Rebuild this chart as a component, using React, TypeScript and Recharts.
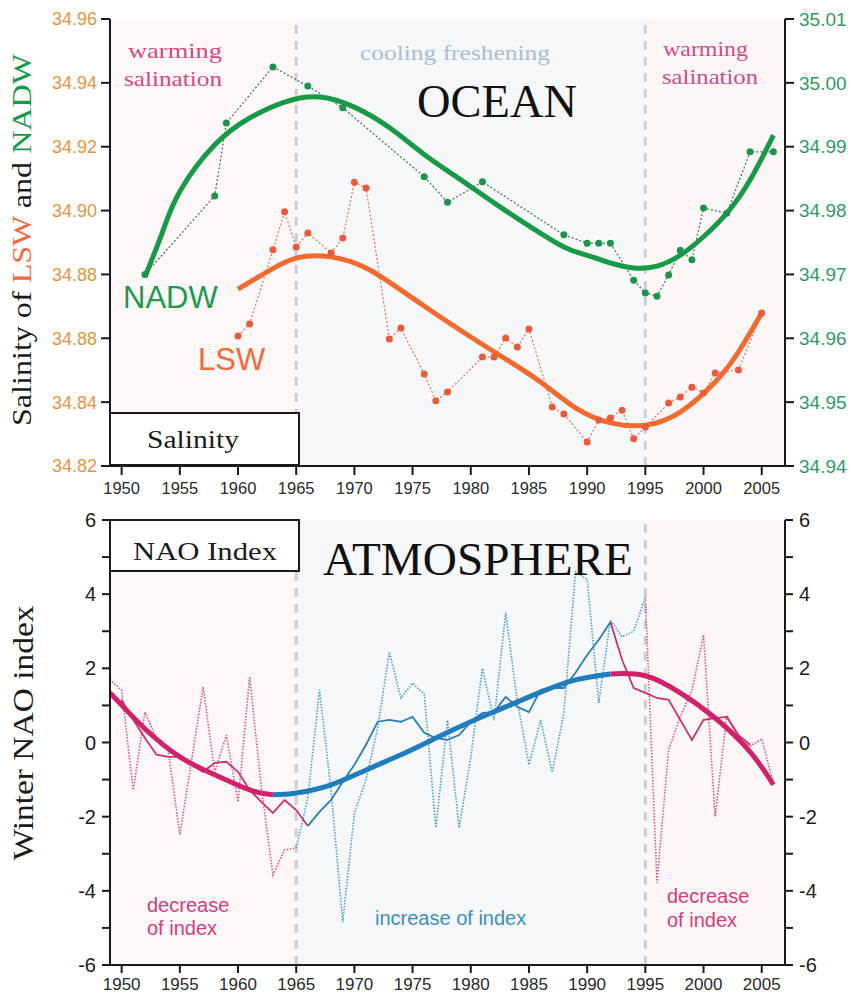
import React from "react";
import { LineChart, Line, XAxis, YAxis, ReferenceArea, ReferenceLine } from "recharts";

const YEAR_TICKS = [1950, 1955, 1960, 1965, 1970, 1975, 1980, 1985, 1990, 1995, 2000, 2005];
const YEAR_DOMAIN = [1949, 2007];
const PERIODS = [1965, 1995];

const LSW_TICKS = [34.82, 34.84, 34.86, 34.88, 34.9, 34.92, 34.94, 34.96];
const LSW_TICK_LABELS = ["34.82", "34.84", "34.88", "34.88", "34.90", "34.92", "34.94", "34.96"];
const NADW_TICKS = [34.94, 34.95, 34.96, 34.97, 34.98, 34.99, 35.0, 35.01];
const NAO_TICKS = [-6, -5, -4, -3, -2, -1, 0, 1, 2, 3, 4, 5, 6];

// NADW salinity (right axis)
const NADW_YEARS = [1952, 1958, 1959, 1963, 1966, 1969, 1976, 1978, 1981, 1988, 1990, 1991, 1992, 1994, 1995, 1996, 1997, 1998, 1999, 2000, 2002, 2004, 2006];
const NADW_VALUES = [34.970, 34.9823, 34.9937, 35.0025, 34.9995, 34.9961, 34.9853, 34.9813, 34.9845, 34.9762, 34.9749, 34.9749, 34.9749, 34.9691, 34.9671, 34.9666, 34.9699, 34.9738, 34.9723, 34.9804, 34.9796, 34.9892, 34.9892];
const NADW_FIT_YEARS = [1952, 1953.5, 1955, 1958, 1961, 1964, 1967, 1970, 1973, 1976, 1979, 1982, 1985, 1988, 1990, 1992, 1994, 1996, 1998, 2000, 2002, 2004, 2006];
const NADW_FIT_VALUES = [34.9696, 34.9766, 34.9830, 34.9903, 34.9945, 34.997, 34.9978, 34.9962, 34.993, 34.9888, 34.985, 34.9812, 34.9776, 34.9743, 34.973, 34.9718, 34.971, 34.9713, 34.973, 34.9759, 34.9796, 34.9848, 34.9918];

// LSW salinity (left axis)
const LSW_YEARS = [1960, 1961, 1963, 1964, 1965, 1966, 1968, 1969, 1970, 1971, 1973, 1974, 1976, 1977, 1978, 1981, 1982, 1983, 1984, 1985, 1987, 1988, 1990, 1991, 1992, 1993, 1994, 1995, 1997, 1998, 1999, 2000, 2001, 2003, 2005];
const LSW_VALUES = [34.8607, 34.8645, 34.8877, 34.8996, 34.8886, 34.893, 34.8867, 34.8914, 34.9089, 34.9071, 34.8598, 34.8632, 34.8488, 34.8404, 34.8432, 34.8541, 34.8541, 34.8601, 34.8573, 34.8629, 34.8385, 34.8363, 34.8275, 34.8344, 34.835, 34.8375, 34.8285, 34.8322, 34.8397, 34.8416, 34.8447, 34.8429, 34.8491, 34.8501, 34.8679];
const LSW_FIT_YEARS = [1960, 1962.5, 1965, 1968, 1971, 1974, 1977, 1980, 1983, 1986, 1989, 1992, 1995, 1998, 2001, 2003, 2005];
const LSW_FIT_VALUES = [34.8754, 34.8808, 34.8851, 34.8855, 34.882, 34.8751, 34.8676, 34.8604, 34.8535, 34.8463, 34.8382, 34.8335, 34.8328, 34.8369, 34.8463, 34.8557, 34.8679];

// winter NAO index
const NAO_YEARS = [1949, 1950, 1951, 1952, 1953, 1954, 1955, 1956, 1957, 1958, 1959, 1960, 1961, 1962, 1963, 1964, 1965, 1966, 1967, 1968, 1969, 1970, 1971, 1972, 1973, 1974, 1975, 1976, 1977, 1978, 1979, 1980, 1981, 1982, 1983, 1984, 1985, 1986, 1987, 1988, 1989, 1990, 1991, 1992, 1993, 1994, 1995, 1996, 1997, 1998, 1999, 2000, 2001, 2002, 2003, 2004, 2005, 2006];
const NAO_VALUES = [1.7, 1.4, -1.28, 0.82, 0.1, -0.2, -2.49, -0.5, 1.5, -0.8, 0.2, -1.6, 1.77, -1.2, -3.57, -2.9, -2.84, -1.5, 1.42, -1.3, -4.84, -1.9, -1.0, 0.4, 2.44, 1.2, 1.6, 1.3, -2.3, 0.6, -2.3, -0.4, 2.0, 0.6, 3.5, 1.1, -0.6, 0.6, -0.8, 0.8, 4.6, 4.4, 1.07, 3.3, 2.85, 3.0, 3.92, -3.78, -0.2, 0.7, 1.4, 2.9, -2.0, 0.74, 0.1, -0.1, 0.1, -1.1];
const NAO_MEAN_YEARS = [1950, 1951, 1952, 1953, 1954, 1955, 1956, 1957, 1958, 1959, 1960, 1961, 1962, 1963, 1964, 1965, 1966, 1967, 1968, 1969, 1970, 1971, 1972, 1973, 1974, 1975, 1976, 1977, 1978, 1979, 1980, 1981, 1982, 1983, 1984, 1985, 1986, 1987, 1988, 1989, 1990, 1991, 1992, 1993, 1994, 1995, 1996, 1997, 1998, 1999, 2000, 2001, 2002, 2003, 2004];
const NAO_MEAN_VALUES = [1.15, 0.61, 0.12, -0.33, -0.39, -0.39, -0.6, -0.79, -0.55, -0.52, -0.79, -1.28, -1.6, -1.9, -1.55, -1.82, -2.25, -1.87, -1.55, -1.06, -0.6, -0.06, 0.56, 0.61, 0.56, 0.69, 0.26, 0.12, 0.07, 0.2, 0.56, 0.8, 0.82, 1.23, 0.96, 0.82, 1.42, 1.47, 1.47, 1.88, 2.36, 2.77, 3.25, 2.23, 1.47, 1.34, 1.2, 1.15, 0.61, 0.07, 0.61, 0.66, 0.69, 0.2, -0.06];
const NAO_FIT_YEARS = [1949, 1950, 1952, 1955, 1958, 1961, 1963, 1965, 1968, 1971, 1974, 1977, 1980, 1983, 1986, 1989, 1992, 1995, 1998, 2001, 2004, 2006];
const NAO_FIT_VALUES = [1.34, 1.01, 0.37, -0.39, -0.87, -1.28, -1.41, -1.36, -1.14, -0.74, -0.33, 0.12, 0.56, 0.96, 1.36, 1.69, 1.85, 1.8, 1.34, 0.66, -0.25, -1.14];

const PINK = "#d3206b";
const BLUE = "#1f7cbd";
const GREEN = "#179a48";
const ORANGE = "#f26a2e";

const SANS = "'Liberation Sans', Arial, sans-serif";
const SERIF = "'Liberation Serif', 'Times New Roman', serif";

function rows(years: number[], values: number[], from = -Infinity, to = Infinity) {
  return years
    .map((year, i) => ({ year, v: values[i] }))
    .filter((r) => r.year >= from && r.year <= to);
}

const axisStroke = { stroke: "#1a1a1a", strokeWidth: 2 };

function Shading({ yAxisId }: { yAxisId: string }) {
  return (
    <>
      <ReferenceArea xAxisId="b" yAxisId={yAxisId} x1={1949} x2={PERIODS[0]} fill="#fdf7f7" fillOpacity={1} stroke="none" />
      <ReferenceArea xAxisId="b" yAxisId={yAxisId} x1={PERIODS[0]} x2={PERIODS[1]} fill="#f6f7f9" fillOpacity={1} stroke="none" />
      <ReferenceArea xAxisId="b" yAxisId={yAxisId} x1={PERIODS[1]} x2={2007} fill="#fdf6f7" fillOpacity={1} stroke="none" />
      {PERIODS.map((p) => (
        <ReferenceLine key={p} xAxisId="b" yAxisId={yAxisId} x={p} stroke="#cdced2" strokeWidth={3} strokeDasharray="9 7" />
      ))}
    </>
  );
}

function OceanChart() {
  return (
    <LineChart width={852} height={501} margin={{ top: 19, right: 0, bottom: 0, left: 0 }}>
      <XAxis xAxisId="b" dataKey="year" type="number" domain={YEAR_DOMAIN} ticks={YEAR_TICKS}
        allowDataOverflow height={35} tickSize={9} tickMargin={7} axisLine={axisStroke} tickLine={axisStroke}
        tick={{ fill: "#2a2a2a", fontSize: 16.5, fontFamily: SANS }} />
      <XAxis xAxisId="t" orientation="top" mirror dataKey="year" type="number" domain={YEAR_DOMAIN}
        ticks={YEAR_TICKS} allowDataOverflow height={0} tickSize={9} axisLine={axisStroke} tickLine={axisStroke}
        tickFormatter={() => ""} />
      <YAxis yAxisId="lsw" type="number" domain={[34.82, 34.96]} ticks={LSW_TICKS} allowDataOverflow width={110}
        tickSize={9} tickMargin={4} axisLine={axisStroke} tickLine={axisStroke}
        tickFormatter={(v: number, i: number) => LSW_TICK_LABELS[i]}
        tick={{ fill: "#e4963c", fontSize: 18, fontFamily: SANS }} />
      <YAxis yAxisId="nadw" orientation="right" type="number" domain={[34.94, 35.01]} ticks={NADW_TICKS}
        allowDataOverflow width={67} tickSize={9} tickMargin={5} axisLine={axisStroke} tickLine={axisStroke}
        tickFormatter={(v: number) => v.toFixed(2)}
        tick={{ fill: "#2f9a64", fontSize: 19, fontFamily: SANS }} />
      <Shading yAxisId="lsw" />
      <Line xAxisId="b" yAxisId="nadw" data={rows(NADW_YEARS, NADW_VALUES)} dataKey="v" type="linear"
        stroke="#3f6e55" strokeWidth={1.2} strokeDasharray="2 2" dot={{ r: 3.5, fill: "#1e9350", stroke: "none" }}
        isAnimationActive={false} />
      <Line xAxisId="b" yAxisId="nadw" data={rows(NADW_FIT_YEARS, NADW_FIT_VALUES)} dataKey="v" type="natural"
        stroke={GREEN} strokeWidth={5} dot={false} isAnimationActive={false} />
      <Line xAxisId="b" yAxisId="lsw" data={rows(LSW_YEARS, LSW_VALUES)} dataKey="v" type="linear"
        stroke="#d4765e" strokeWidth={1.2} strokeDasharray="2 2" dot={{ r: 3.5, fill: "#ea5a3c", stroke: "none" }}
        isAnimationActive={false} />
      <Line xAxisId="b" yAxisId="lsw" data={rows(LSW_FIT_YEARS, LSW_FIT_VALUES)} dataKey="v" type="natural"
        stroke={ORANGE} strokeWidth={5} dot={false} isAnimationActive={false} />
    </LineChart>
  );
}

function AtmosphereChart() {
  const segments = [
    { from: 1949, to: PERIODS[0], color: "#d4578a" },
    { from: PERIODS[0], to: PERIODS[1], color: "#4a9cc8" },
    { from: PERIODS[1], to: 2006, color: "#d4578a" },
  ];
  const meanSegments = [
    { from: 1950, to: 1966, color: "#c8336c" },
    { from: 1966, to: 1992, color: "#2a7fb5" },
    { from: 1992, to: 2004, color: "#c8336c" },
  ];
  const fitSegments = [
    { from: 1949, to: 1963, color: PINK },
    { from: 1963, to: 1992, color: BLUE },
    { from: 1992, to: 2006, color: PINK },
  ];
  return (
    <LineChart width={852} height={503} margin={{ top: 20, right: 0, bottom: 0, left: 0 }}>
      <XAxis xAxisId="b" dataKey="year" type="number" domain={YEAR_DOMAIN} ticks={YEAR_TICKS}
        allowDataOverflow height={38} tickSize={8} tickMargin={5} axisLine={axisStroke} tickLine={axisStroke}
        tick={{ fill: "#2a2a2a", fontSize: 17, fontFamily: SANS }} />
      <XAxis xAxisId="t" orientation="top" dataKey="year" type="number" domain={YEAR_DOMAIN}
        ticks={YEAR_TICKS} allowDataOverflow height={0} tickSize={8} axisLine={axisStroke} tickLine={axisStroke}
        tickFormatter={() => ""} />
      <YAxis yAxisId="l" type="number" domain={[-6, 6]} ticks={NAO_TICKS} allowDataOverflow width={110}
        tickSize={8} tickMargin={6} axisLine={axisStroke} tickLine={axisStroke}
        tickFormatter={(v: number) => (v % 2 === 0 ? String(v) : "")}
        tick={{ fill: "#1a1a1a", fontSize: 20, fontFamily: SANS }} />
      <YAxis yAxisId="r" orientation="right" type="number" domain={[-6, 6]} ticks={NAO_TICKS} allowDataOverflow
        width={67} tickSize={8} tickMargin={6} axisLine={axisStroke} tickLine={axisStroke}
        tickFormatter={(v: number) => (v % 2 === 0 ? String(v) : "")}
        tick={{ fill: "#1a1a1a", fontSize: 20, fontFamily: SANS }} />
      <Shading yAxisId="l" />
      {segments.map((s) => (
        <Line key={"d" + s.from} xAxisId="b" yAxisId="l" data={rows(NAO_YEARS, NAO_VALUES, s.from, s.to)}
          dataKey="v" type="linear" stroke={s.color} strokeWidth={1.6} strokeDasharray="1.5 1.5" dot={false}
          isAnimationActive={false} />
      ))}
      {meanSegments.map((s) => (
        <Line key={"m" + s.from} xAxisId="b" yAxisId="l" data={rows(NAO_MEAN_YEARS, NAO_MEAN_VALUES, s.from, s.to)}
          dataKey="v" type="linear" stroke={s.color} strokeWidth={1.8} dot={false} isAnimationActive={false} />
      ))}
      {fitSegments.map((s) => (
        <Line key={"f" + s.from} xAxisId="b" yAxisId="l" data={rows(NAO_FIT_YEARS, NAO_FIT_VALUES, s.from, s.to)}
          dataKey="v" type="natural" stroke={s.color} strokeWidth={5} dot={false} isAnimationActive={false} />
      ))}
    </LineChart>
  );
}

function Annotations() {
  return (
    <svg width={852} height={1003} style={{ position: "absolute", left: 0, top: 0, pointerEvents: "none" }}>
      <g fontFamily={SERIF}>
        <text x={128} y={58} fontSize={22} fill="#d24a86" textLength={94} lengthAdjust="spacingAndGlyphs">warming</text>
        <text x={124} y={86} fontSize={22} fill="#d24a86" textLength={98} lengthAdjust="spacingAndGlyphs">salination</text>
        <text x={663} y={56} fontSize={22} fill="#d24a86" textLength={85} lengthAdjust="spacingAndGlyphs">warming</text>
        <text x={662} y={84} fontSize={22} fill="#d24a86" textLength={96} lengthAdjust="spacingAndGlyphs">salination</text>
        <text x={360} y={60} fontSize={21} fill="#a9bdd0" textLength={190} lengthAdjust="spacingAndGlyphs">cooling  freshening</text>
        <text x={417} y={117} fontSize={46} fill="#111" textLength={160} lengthAdjust="spacingAndGlyphs">OCEAN</text>
        <text x={323} y={575} fontSize={46} fill="#111" textLength={310} lengthAdjust="spacingAndGlyphs">ATMOSPHERE</text>
        <rect x={110} y={413} width={189} height={52} fill="#fff" stroke="#1a1a1a" strokeWidth={2} />
        <text x={147} y={448} fontSize={26} fill="#1a1a1a" textLength={92} lengthAdjust="spacingAndGlyphs">Salinity</text>
        <rect x={110} y={520} width={189} height={51} fill="#fff" stroke="#1a1a1a" strokeWidth={2} />
        <text x={133} y={560} fontSize={26} fill="#1a1a1a" textLength={144} lengthAdjust="spacingAndGlyphs">NAO Index</text>
        <text transform="translate(31 240) rotate(-90)" textAnchor="middle" fontSize={27} fill="#1a1a1a"
          textLength={372} lengthAdjust="spacingAndGlyphs">
          Salinity of <tspan fill="#ef6b3f">LSW</tspan> and <tspan fill={GREEN}>NADW</tspan>
        </text>
        <text transform="translate(33 733) rotate(-90)" textAnchor="middle" fontSize={29} fill="#1a1a1a"
          textLength={255} lengthAdjust="spacingAndGlyphs">
          Winter NAO index
        </text>
      </g>
      <g fontFamily={SANS}>
        <text x={123} y={308} fontSize={31} fill="#1e9a50">NADW</text>
        <text x={198} y={370} fontSize={31} fill="#ef6b3f">LSW</text>
        <text x={147} y={912} fontSize={20} fill="#d0407e">decrease</text>
        <text x={147} y={935} fontSize={20} fill="#d0407e">of index</text>
        <text x={375} y={925} fontSize={20} fill="#3a8fc0">increase of index</text>
        <text x={667} y={903} fontSize={20} fill="#d0407e">decrease</text>
        <text x={667} y={927} fontSize={20} fill="#d0407e">of index</text>
      </g>
    </svg>
  );
}

export default function App() {
  return (
    <div style={{ position: "absolute", left: 0, top: 0, width: 852, height: 1003, background: "#fff" }}>
      <div style={{ position: "absolute", left: 0, top: 0 }}>
        <OceanChart />
      </div>
      <div style={{ position: "absolute", left: 0, top: 500 }}>
        <AtmosphereChart />
      </div>
      <Annotations />
    </div>
  );
}
